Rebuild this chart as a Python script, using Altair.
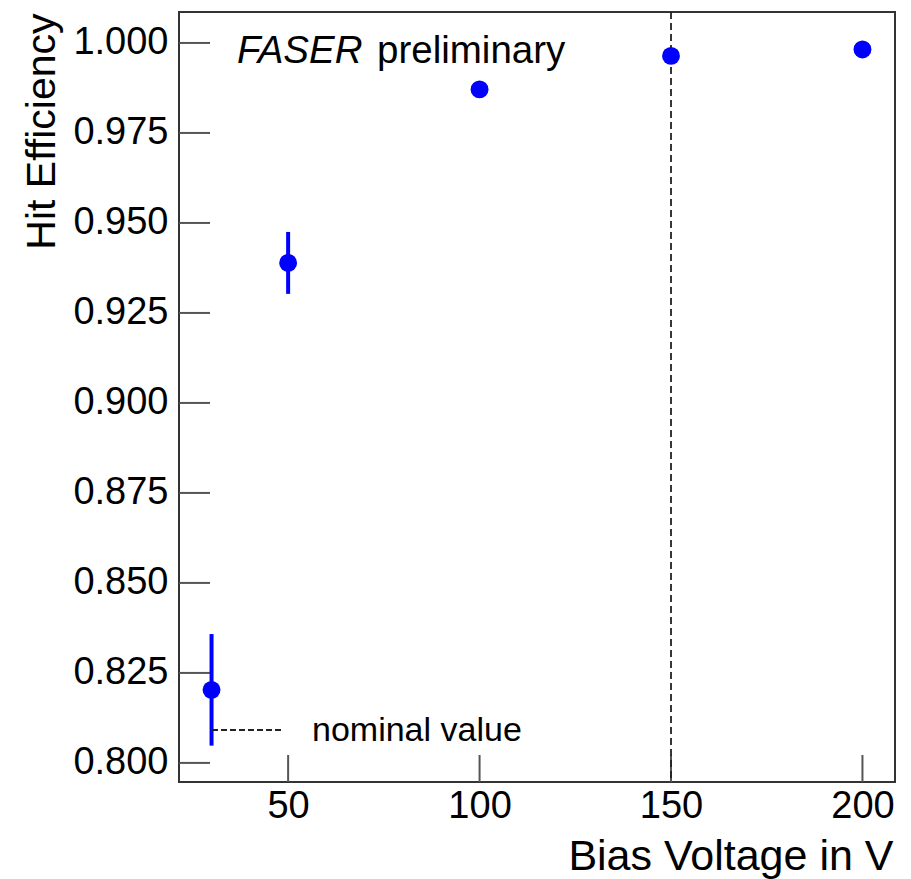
import altair as alt
import pandas as pd

# data
voltage = [30, 50, 100, 150, 200]
efficiency = [0.8203, 0.9389, 0.9871, 0.9964, 0.9982]
eff_error = [0.0155, 0.0086, 0.0015, 0.0008, 0.0006]
nominal_voltage = [150]
x_ticks = [50, 100, 150, 200]
y_ticks = [0.800, 0.825, 0.850, 0.875, 0.900, 0.925, 0.950, 0.975, 1.000]

W, H = 716, 770
FONT = "Liberation Sans"

df = pd.DataFrame({
    "V": voltage,
    "eff": efficiency,
    "lo": [e - d for e, d in zip(efficiency, eff_error)],
    "hi": [e + d for e, d in zip(efficiency, eff_error)],
})

xs = alt.Scale(domain=[21.5, 208.5], nice=False, zero=False)
ys = alt.Scale(domain=[0.7947, 1.0086], nice=False, zero=False)

x_axis = alt.Axis(
    values=x_ticks, title="Bias Voltage in V", grid=False, domain=False,
    ticks=False, labelFont=FONT, labelFontSize=38, labelColor="#000000",
    labelPadding=5, titleFont=FONT, titleFontSize=43, titleFontWeight="normal",
    titleColor="#000000", titleAnchor="end", titleAlign="right",
    titleBaseline="alphabetic", titleX=W - 2, titleY=87,
)
y_axis = alt.Axis(
    values=y_ticks, format=".3f", title="Hit Efficiency", grid=False,
    domain=False, ticks=False, labelFont=FONT, labelFontSize=38,
    labelColor="#000000", labelPadding=11, titleFont=FONT, titleFontSize=41,
    titleFontWeight="normal", titleColor="#000000", titleAngle=270,
    titleAlign="right", titleBaseline="alphabetic", titleX=-125, titleY=1,
)

axes_layer = alt.Chart(df).mark_point(opacity=0).encode(
    x=alt.X("V:Q", scale=xs, axis=x_axis),
    y=alt.Y("eff:Q", scale=ys, axis=y_axis),
)

xtick_rules = alt.Chart(pd.DataFrame({"V": x_ticks})).mark_rule(
    color="#555555", strokeWidth=2
).encode(
    x=alt.X("V:Q", scale=xs, axis=x_axis),
    y=alt.value(H), y2=alt.value(H - 27),
)

ytick_rules = alt.Chart(pd.DataFrame({"eff": y_ticks})).mark_rule(
    color="#555555", strokeWidth=2
).encode(
    y=alt.Y("eff:Q", scale=ys, axis=y_axis),
    x=alt.value(0), x2=alt.value(31),
)

nominal = alt.Chart(pd.DataFrame({"V": nominal_voltage})).mark_rule(
    color="#222222", strokeWidth=1.8, strokeDash=[7, 4]
).encode(
    x=alt.X("V:Q", scale=xs, axis=x_axis),
    y=alt.value(0), y2=alt.value(H),
)

errbars = alt.Chart(df).mark_rule(color="#0000ff", strokeWidth=4).encode(
    x=alt.X("V:Q", scale=xs, axis=x_axis),
    y=alt.Y("lo:Q", scale=ys, axis=y_axis),
    y2="hi:Q",
)

points = alt.Chart(df).mark_circle(color="#0000ff", size=320, opacity=1).encode(
    x=alt.X("V:Q", scale=xs, axis=x_axis),
    y=alt.Y("eff:Q", scale=ys, axis=y_axis),
)

legend_line = alt.Chart(pd.DataFrame({"k": [0]})).mark_rule(
    color="#222222", strokeWidth=2, strokeDash=[6, 3]
).encode(x=alt.value(33), x2=alt.value(105), y=alt.value(718))

legend_text = alt.Chart(pd.DataFrame({"t": ["nominal value"]})).mark_text(
    font=FONT, fontSize=34, align="left", baseline="middle", color="#000000"
).encode(x=alt.value(133), y=alt.value(719), text="t:N")

faser = alt.Chart(pd.DataFrame({"t": ["FASER"]})).mark_text(
    font=FONT, fontSize=38.5, fontStyle="italic", align="left",
    baseline="alphabetic", color="#000000"
).encode(x=alt.value(58), y=alt.value(51), text="t:N")

prelim = alt.Chart(pd.DataFrame({"t": ["preliminary"]})).mark_text(
    font=FONT, fontSize=38.5, align="left", baseline="alphabetic", color="#000000"
).encode(x=alt.value(198), y=alt.value(51), text="t:N")

chart = alt.layer(
    axes_layer, xtick_rules, ytick_rules, nominal, errbars, points,
    legend_line, legend_text, faser, prelim,
).properties(
    width=W, height=H,
    autosize=alt.AutoSizeParams(type="none"),
    padding={"left": 179, "top": 12, "right": 16, "bottom": 97},
    background="#ffffff",
).configure_view(
    stroke="#333333", strokeWidth=2,
)

chart.save("out.html", embed_options={"renderer": "svg", "actions": False})
